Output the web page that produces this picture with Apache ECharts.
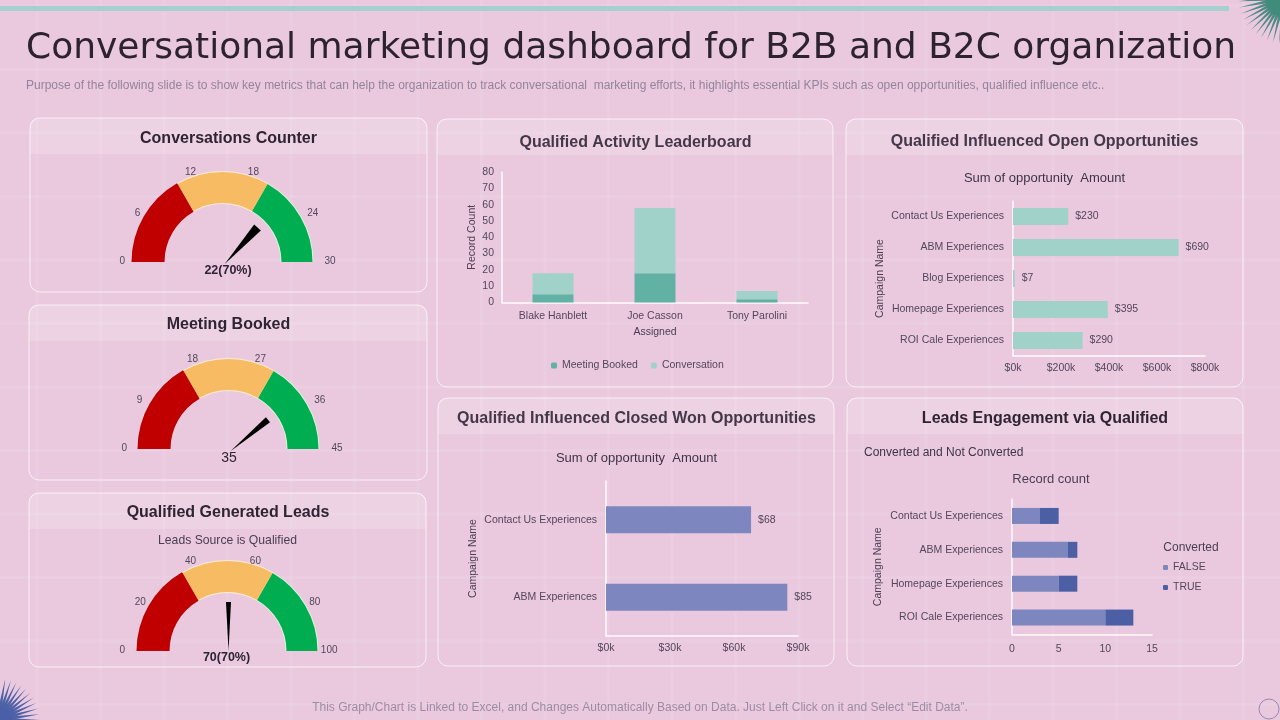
<!DOCTYPE html>
<html>
<head>
<meta charset="utf-8">
<title>Conversational marketing dashboard</title>
<script src="https://cdn.jsdelivr.net/npm/echarts@6/dist/echarts.min.js"></script>
<style>
  html, body { margin: 0; padding: 0; background: #eac9df; }
  #main { width: 1280px; height: 720px; }
</style>
</head>
<body>
<div id="main"></div>
<script>
// gauges
const gaugeMax = [30, 45, 100];
// the third needle stands upright in the source, although its label says 70
const gaugeNeedle = [22, 35, 50];
const gaugeLabels = ['22(70%)', '35', '70(70%)'];

// Qualified Activity Leaderboard
const assignees = ['Blake Hanblett', 'Joe Casson', 'Tony Parolini'];
const meetingBooked = [5, 18, 2];
const conversation = [13, 40, 5];

// Qualified Influenced Open Opportunities
const openCampaigns = ['Contact Us Experiences', 'ABM Experiences', 'Blog Experiences', 'Homepage Experiences', 'ROI Cale Experiences'];
const openAmounts = [230, 690, 7, 395, 290];

// Qualified Influenced Closed Won Opportunities
const wonCampaigns = ['Contact Us Experiences', 'ABM Experiences'];
const wonAmounts = [68, 85];

// Leads Engagement via Qualified
const leadCampaigns = ['Contact Us Experiences', 'ABM Experiences', 'Homepage Experiences', 'ROI Cale Experiences'];
const leadsFalse = [3, 6, 5, 10];
const leadsTrue = [2, 1, 2, 3];

const SANS = '"Liberation Sans", Arial, sans-serif';
const DARK = '#2f2433';
const TICK = '#54475a';
const TEAL = '#a0d2c9', TEAL_DARK = '#62b1a5';
const BLUE = '#7d86be', BLUE_DARK = '#4c5ea4';

function label(text, x, y, size, opts) {
    opts = opts || {};
    return {
        text: text, left: x, top: y, padding: 0,
        textAlign: opts.align || 'center', textVerticalAlign: 'middle',
        textStyle: {
            fontFamily: opts.family || SANS, fontSize: size,
            fontWeight: opts.weight || 'normal', color: opts.color || DARK
        }
    };
}

const titles = [
    label('Conversational marketing dashboard for B2B and B2C organization', 26, 49, 36, { align: 'left', family: '"DejaVu Sans"', color: '#2c2230' }),
    label('Purpose of the following slide is to show key metrics that can help the organization to track conversational  marketing efforts, it highlights essential KPIs such as open opportunities, qualified influence etc..', 26, 86, 12, { align: 'left', color: '#94849a' }),
    label('Conversations Counter', 228.5, 139, 16, { weight: 'bold' }),
    label('Meeting Booked', 228.5, 325, 16, { weight: 'bold' }),
    label('Qualified Generated Leads', 228, 513, 16, { weight: 'bold' }),
    label('Leads Source is Qualified', 227.5, 541, 12.2, { color: '#4a3e50' }),
    label('Qualified Activity Leaderboard', 635.5, 143, 16, { weight: 'bold', color: '#443848' }),
    label('Qualified Influenced Open Opportunities', 1044.5, 142, 16, { weight: 'bold', color: '#443848' }),
    label('Sum of opportunity  Amount', 1044.5, 178, 13, { color: '#3f3444' }),
    label('Qualified Influenced Closed Won Opportunities', 636.5, 419, 16, { weight: 'bold', color: '#443848' }),
    label('Sum of opportunity  Amount', 636.5, 458, 13, { color: '#3f3444' }),
    label('Leads Engagement via Qualified', 1045, 419, 16, { weight: 'bold' }),
    label('Converted and Not Converted', 864, 453, 12, { align: 'left', color: '#3f3444' }),
    label('Record count', 1051, 479, 13, { color: '#4a3e50' }),
    label('Converted', 1191, 548, 12, { color: '#4a3e50' }),
    label('This Graph/Chart is Linked to Excel, and Changes Automatically Based on Data. Just Left Click on it and Select \u201CEdit Data\u201D.', 640, 708, 12, { color: '#9c8ca3' })
];

// backdrop: faint slide grid, panels, top bar and corner bursts
function backdrop() {
    const items = [];
    for (let x = 37; x < 1280; x += 63.5) {
        items.push({ type: 'line', shape: { x1: x, y1: 0, x2: x, y2: 720 }, style: { stroke: 'rgba(255,255,255,0.09)', lineWidth: 3 }, z: -20 });
    }
    for (let y = 6; y < 720; y += 63.5) {
        items.push({ type: 'line', shape: { x1: 0, y1: y, x2: 1280, y2: y }, style: { stroke: 'rgba(255,255,255,0.09)', lineWidth: 3 }, z: -20 });
    }
    items.push({ type: 'rect', shape: { x: 0, y: 6, width: 1229, height: 5 }, style: { fill: '#a5cfd0' }, z: -10 });

    const panels = [
        [30, 118, 397, 174], [29, 305, 398, 175], [29, 493, 397, 174],
        [437, 119, 396, 268], [846, 119, 397, 268],
        [438, 398, 396, 268], [847, 398, 396, 268]
    ];
    panels.forEach(function (p) {
        items.push({ type: 'rect', shape: { x: p[0], y: p[1], width: p[2], height: 36, r: [8, 8, 0, 0] }, style: { fill: 'rgba(255,255,255,0.18)' }, z: -9 });
        items.push({ type: 'rect', shape: { x: p[0], y: p[1], width: p[2], height: p[3], r: 10 }, style: { fill: 'transparent', stroke: 'rgba(255,255,255,0.7)', lineWidth: 1 }, z: -8 });
    });

    // corner bursts, tapered rays around a solid core
    function burst(cx, cy, from, to, len, ray, core, coreR) {
        for (let a = from; a <= to; a += 8) {
            const rad = a * Math.PI / 180;
            const nx = -Math.sin(rad) * 2.5, ny = -Math.cos(rad) * 2.5;
            items.push({
                type: 'polygon',
                shape: { points: [[cx + nx, cy + ny], [cx - nx, cy - ny], [cx + len * Math.cos(rad), cy - len * Math.sin(rad)]] },
                style: { fill: ray }, z: -7
            });
        }
        items.push({ type: 'circle', shape: { cx: cx, cy: cy, r: coreR }, style: { fill: core }, z: -6 });
    }
    burst(1284, -2, 176, 272, 46, '#4f8a83', '#3f8c7a', 19);
    burst(-2, 720, 0, 92, 42, '#4f62a8', '#4a5fa8', 14);
    items.push({ type: 'circle', shape: { cx: 1269, cy: 709, r: 10 }, style: { fill: 'transparent', stroke: '#9a88b0', lineWidth: 1 }, z: -6 });
    return items;
}

// gauge layout, one entry per gauge: centre, needle foot shift, needle width, readout, tick label nudges
const gaugeLayout = [
    { cx: 222.5, cy: 262, shift: 3, w: 9, lx: 5.5, ly: 8.5, bold: true, size: 12.5, nudgeL: -1, nudgeR: 0 },
    { cx: 228.5, cy: 449, shift: 3, w: 6.5, lx: 0.5, ly: 9.5, bold: false, size: 14, nudgeL: -5, nudgeR: 1 },
    { cx: 227.5, cy: 651, shift: 1, w: 5, lx: -1, ly: 7, bold: true, size: 12.5, nudgeL: -6, nudgeR: -3 }
];

// the tick labels sit unevenly round the arc in the source, so each group gets its own axis layer
const tickLayers = [
    { ticks: [0], dx: 5, dy: -1, dist: -17, side: 'L' },
    { ticks: [1], dx: 3, dy: 16, dist: -21, side: 'L' },
    { ticks: [2], dx: 0, dy: 0, dist: -10, side: 'L' },
    { ticks: [3], dx: 0, dy: 0, dist: -10, side: 'R' },
    { ticks: [4], dx: 6, dy: 16, dist: -21, side: 'R' },
    { ticks: [5], dx: 6, dy: -1, dist: -17, side: 'R' }
];

function gaugeSeries(i) {
    const g = gaugeLayout[i];
    const base = {
        type: 'gauge', center: [g.cx, g.cy], startAngle: 180, endAngle: 0,
        min: 0, max: gaugeMax[i], animation: false, silent: true
    };
    const list = [
        // pale rim and separators between the bands
        Object.assign({}, base, {
            radius: 91, splitNumber: 3, z: 2,
            axisLine: { lineStyle: { width: 33, color: [[1 / 3, '#b80000'], [2 / 3, '#fbeed8'], [1, '#def3dc']] } },
            axisTick: { show: false }, splitLine: { show: false }, axisLabel: { show: false },
            pointer: { show: false }, detail: { show: false }, title: { show: false }, data: []
        }),
        Object.assign({}, base, {
            radius: 90, splitNumber: 5, z: 3,
            axisLine: { lineStyle: { width: 31, color: [[1 / 3, '#c00000'], [2 / 3, '#f7bc63'], [1, '#00ad50']] } },
            axisTick: { show: false },
            splitLine: { show: false },
            axisLabel: { show: false },
            pointer: {
                icon: 'path://M0,0 L10,0 L5,100 Z', length: 49, width: g.w,
                offsetCenter: [g.shift, 0], itemStyle: { color: '#000' }
            },
            anchor: { show: false },
            title: { show: false },
            detail: {
                valueAnimation: false, offsetCenter: [g.lx, g.ly], fontFamily: SANS,
                fontSize: g.size, fontWeight: g.bold ? 'bold' : 'normal', color: '#2f2433',
                formatter: function () { return gaugeLabels[i]; }
            },
            data: [{ value: gaugeNeedle[i] }]
        })
    ];
    tickLayers.forEach(function (t) {
        const nudge = t.side === 'L' ? g.nudgeL : g.nudgeR;
        list.push(Object.assign({}, base, {
            center: [g.cx + t.dx + nudge, g.cy + t.dy],
            radius: 90, splitNumber: 5, z: 4,
            axisLine: { show: false }, axisTick: { show: false },
            splitLine: { show: false, length: 0, distance: 0 },
            axisLabel: {
                distance: t.dist, fontSize: 10, color: TICK, fontFamily: SANS,
                formatter: function (v) {
                    return t.ticks.indexOf(Math.round(v / gaugeMax[i] * 5)) >= 0 ? String(v) : '';
                }
            },
            pointer: { show: false }, detail: { show: false }, title: { show: false }, data: []
        }));
    });
    return list;
}

// axis helpers
const axisLine = { show: true, lineStyle: { color: 'rgba(255,255,255,0.95)', width: 1.5 } };
const tickText = { color: TICK, fontSize: 10.5, fontFamily: SANS };
const nameText = { color: '#4a3e50', fontSize: 10.5, fontFamily: SANS };

function catAxis(grid, data, gap) {
    return {
        type: 'category', gridIndex: grid, data: data, inverse: true,
        axisLine: axisLine, axisTick: { show: false },
        axisLabel: Object.assign({ margin: 9, interval: 0 }, tickText),
        name: 'Campaign Name', nameLocation: 'middle', nameRotate: 90, nameGap: gap, nameTextStyle: nameText
    };
}
function valAxis(grid, max, step, fmt, margin) {
    return {
        type: 'value', gridIndex: grid, min: 0, max: max, interval: step,
        axisLine: axisLine, axisTick: { show: false }, splitLine: { show: false },
        axisLabel: Object.assign({ margin: margin, formatter: fmt }, tickText)
    };
}
function barLabel(fmt) {
    return { show: true, position: 'right', distance: 7, formatter: fmt, color: TICK, fontSize: 10.5, fontFamily: SANS };
}
const dollarK = function (v) { return '$' + v + 'k'; };
const dollar = function (p) { return '$' + p.value; };

const option = {
    backgroundColor: '#eac9df',
    animation: false,
    title: titles,
    graphic: { elements: backdrop() },
    legend: [
        {
            data: ['Meeting Booked', 'Conversation'], left: 551, top: 360, padding: 0,
            itemWidth: 6, itemHeight: 6, itemGap: 13,
            textStyle: { color: TICK, fontSize: 10.5, fontFamily: SANS }
        },
        {
            data: ['FALSE', 'TRUE'], orient: 'vertical', left: 1163, top: 562, padding: 0,
            itemWidth: 5, itemHeight: 5, itemGap: 9,
            textStyle: { color: TICK, fontSize: 10.5, fontFamily: SANS }
        }
    ],
    grid: [
        { left: 502, top: 172, width: 306, height: 130.5 },
        { left: 1013, top: 201, width: 192, height: 155 },
        { left: 606, top: 481, width: 192, height: 155 },
        { left: 1012, top: 499, width: 140, height: 135.5 }
    ],
    xAxis: [
        {
            type: 'category', gridIndex: 0, data: assignees,
            axisLine: axisLine, axisTick: { show: false },
            axisLabel: Object.assign({ margin: 8, interval: 0 }, tickText),
            name: 'Assigned', nameLocation: 'middle', nameGap: 24, nameTextStyle: nameText
        },
        valAxis(1, 800, 200, dollarK, 7),
        valAxis(2, 90, 30, dollarK, 7),
        valAxis(3, 15, 5, undefined, 9)
    ],
    yAxis: [
        {
            type: 'value', gridIndex: 0, min: 0, max: 80, interval: 10,
            axisLine: axisLine, axisTick: { show: false }, splitLine: { show: false },
            axisLabel: Object.assign({ margin: 8 }, tickText),
            name: 'Record Count', nameLocation: 'middle', nameRotate: 90, nameGap: 24, nameTextStyle: nameText
        },
        catAxis(1, openCampaigns, 127),
        catAxis(2, wonCampaigns, 127),
        catAxis(3, leadCampaigns, 128)
    ],
    series: [].concat(
        gaugeSeries(0), gaugeSeries(1), gaugeSeries(2),
        [
            { name: 'Meeting Booked', type: 'bar', stack: 'a', xAxisIndex: 0, yAxisIndex: 0, barWidth: 41, data: meetingBooked, itemStyle: { color: TEAL_DARK } },
            { name: 'Conversation', type: 'bar', stack: 'a', xAxisIndex: 0, yAxisIndex: 0, barWidth: 41, data: conversation, itemStyle: { color: TEAL } },
            { name: 'Open', type: 'bar', xAxisIndex: 1, yAxisIndex: 1, barWidth: 17, data: openAmounts, itemStyle: { color: TEAL }, label: barLabel(dollar) },
            { name: 'Won', type: 'bar', xAxisIndex: 2, yAxisIndex: 2, barWidth: 27, data: wonAmounts, itemStyle: { color: BLUE }, label: barLabel(dollar) },
            { name: 'FALSE', type: 'bar', stack: 'b', xAxisIndex: 3, yAxisIndex: 3, barWidth: 16, data: leadsFalse, itemStyle: { color: BLUE } },
            { name: 'TRUE', type: 'bar', stack: 'b', xAxisIndex: 3, yAxisIndex: 3, barWidth: 16, data: leadsTrue, itemStyle: { color: BLUE_DARK } }
        ]
    )
};

const chart = echarts.init(document.getElementById('main'), null, { renderer: 'canvas', width: 1280, height: 720 });
chart.setOption(option);
</script>
</body>
</html>
